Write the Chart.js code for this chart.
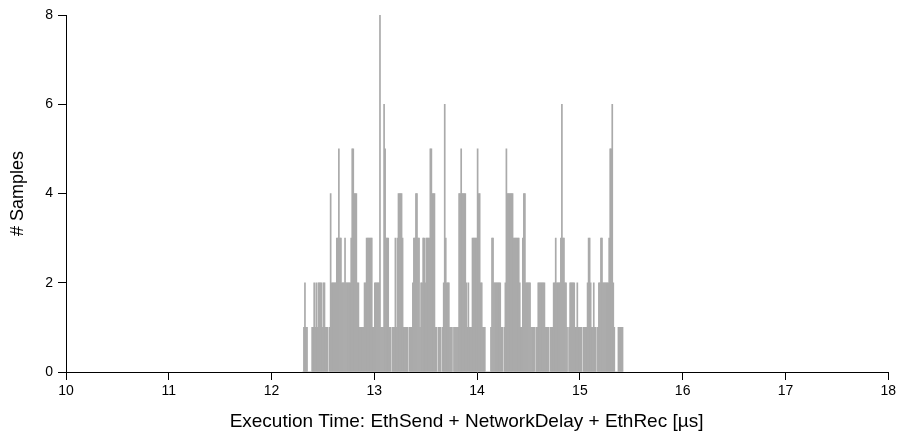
<!DOCTYPE html>
<html>
<head>
<meta charset="utf-8">
<script src="https://cdn.jsdelivr.net/npm/chart.js@4.4.1/dist/chart.umd.min.js"></script>
<style>
  html, body { margin: 0; padding: 0; background: #fff; }
  #wrap { width: 899px; height: 436px; }
</style>
</head>
<body>
<div id="wrap"><canvas id="hist" width="899" height="436"></canvas></div>
<script>
// histogram: bins are 0.01 us wide, the first one starts at 12.30 us
var binStart = 12.30;
var binWidth = 0.01;
var counts = [
  0,1,2,1,1,0,0,0,0,1,
  1,2,1,2,1,2,2,2,2,1,
  2,2,1,1,1,0,1,4,2,2,
  2,2,2,3,3,5,3,3,2,2,
  2,3,2,2,2,2,2,3,5,5,
  4,4,4,2,2,1,1,1,1,1,
  2,2,3,3,3,3,3,3,1,1,
  2,2,2,2,2,8,1,1,1,6,
  5,3,3,3,1,1,0,1,1,1,
  3,1,3,4,4,4,4,3,1,1,
  1,1,1,0,1,1,1,2,3,3,
  4,4,3,3,1,2,2,3,3,2,
  3,3,3,3,5,5,4,4,4,1,
  1,0,1,1,1,0,1,2,6,3,
  2,2,2,1,1,1,0,1,1,1,
  1,1,4,4,5,4,4,4,4,2,
  1,2,1,1,1,3,3,3,3,3,
  5,4,4,2,2,1,1,1,0,0,
  0,0,0,1,3,3,2,2,2,2,
  2,2,2,1,1,0,1,2,5,4,
  4,4,4,4,4,3,3,3,3,3,
  3,2,1,1,3,4,4,2,2,2,
  2,2,1,1,1,1,0,1,1,2,
  2,2,2,2,2,2,1,1,1,1,
  0,1,1,1,2,2,3,2,2,2,
  2,3,6,3,3,2,2,1,0,1,
  2,2,2,2,2,1,1,2,1,1,
  1,1,0,1,1,1,1,2,3,3,
  2,1,1,2,1,1,0,1,2,2,
  3,3,2,2,2,2,2,2,3,5,
  5,6,2,1,0,0,0,1,1,1,
  1,1
];
var xTicks = [10, 11, 12, 13, 14, 15, 16, 17, 18];
var yTicks = [0, 2, 4, 6, 8];

// trailing spaces nudge the centred title a little to the left, as in the original
var xTitle = 'Execution Time: EthSend + NetworkDelay + EthRec [\u00b5s]    ';
var yTitle = '# Samples';

var points = [];
for (var i = 0; i < counts.length; i++) {
  points.push({ x: binStart + binWidth * (i + 0.5), y: counts[i] });
}

var fontFamily = '"Liberation Sans", Arial, Helvetica, sans-serif';
Chart.defaults.font.family = fontFamily;
Chart.defaults.color = '#000';

var ctx = document.getElementById('hist').getContext('2d');
var hist = new Chart(ctx, {
  type: 'bar',
  data: {
    datasets: [{
      data: points,
      backgroundColor: '#aaaaaa',
      borderWidth: 0,
      barPercentage: 1.0,
      categoryPercentage: 1.0
    }]
  },
  options: {
    responsive: false,
    animation: false,
    devicePixelRatio: 1,
    layout: { padding: { top: 15, right: 10, left: 0, bottom: 0 } },
    plugins: { legend: { display: false }, tooltip: { enabled: false } },
    scales: {
      x: {
        type: 'linear',
        offset: false,
        min: 10,
        max: 18,
        afterBuildTicks: function(scale) {
          scale.ticks = xTicks.map(function(v) { return { value: v }; });
        },
        afterFit: function(scale) { scale.height = 64; },
        grid: { offset: false, drawOnChartArea: false, drawTicks: true, tickLength: 8, tickColor: '#000', tickWidth: 1 },
        border: { display: true, color: '#000', width: 1 },
        ticks: { font: { size: 14 }, padding: 3, maxRotation: 0, autoSkip: false },
        title: { display: true, text: xTitle, font: { size: 19 }, padding: { top: 0, bottom: 3 } }
      },
      y: {
        min: 0,
        max: 8,
        afterBuildTicks: function(scale) {
          scale.ticks = yTicks.map(function(v) { return { value: v }; });
        },
        afterFit: function(scale) { scale.width = 66; },
        grid: { drawOnChartArea: false, drawTicks: true, tickLength: 8, tickColor: '#000', tickWidth: 1 },
        border: { display: true, color: '#000', width: 1 },
        ticks: { font: { size: 14 }, padding: 5 },
        title: { display: true, text: yTitle, font: { size: 18 }, padding: { top: 7, bottom: 0 } }
      }
    }
  }
});
</script>
</body>
</html>
